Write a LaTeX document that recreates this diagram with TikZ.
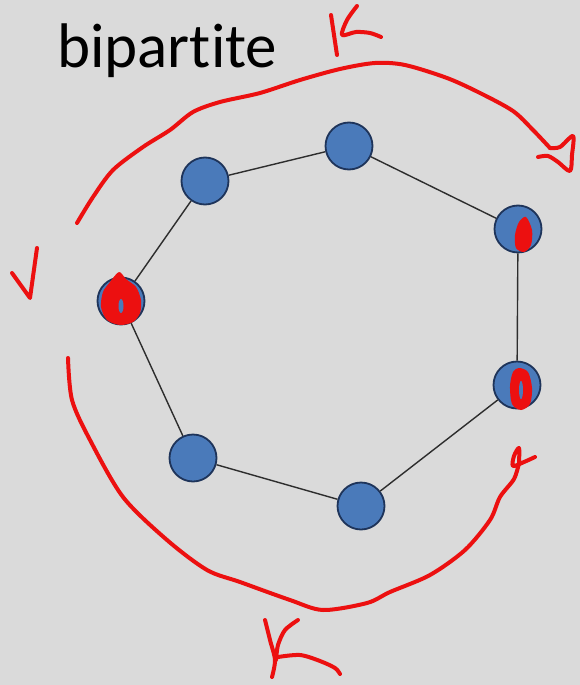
\documentclass[tikz,border=0pt]{standalone}
\usepackage{fontspec}
\setmainfont{Carlito}[Ligatures=NoCommon]
\definecolor{bgc}{RGB}{218,218,218}
\definecolor{nodefill}{RGB}{74,122,186}
\definecolor{nodeline}{RGB}{30,52,90}
\definecolor{edgec}{RGB}{45,45,45}
\definecolor{pen}{RGB}{236,16,16}
\tikzset{
  vtx/.style={circle, fill=nodefill, draw=nodeline, line width=1.8pt, minimum size=47pt, inner sep=0pt},
  edge/.style={draw=edgec, line width=1.4pt},
  penline/.style={draw=pen, line width=4pt, line cap=round, line join=round}
}
\begin{document}
\begin{tikzpicture}[x=1pt,y=-1pt]
\fill[bgc] (0,0) rectangle (580,685);
\useasboundingbox (0,0) rectangle (580,685);

\node[anchor=base west, inner sep=0pt, font=\fontsize{63}{66}\selectfont] (title) at (57,67) {bipart\kern0pt ite};

\node[vtx] (a) at (205,181) {};
\node[vtx] (b) at (349,146) {};
\node[vtx] (c) at (518,229) {};
\node[vtx] (d) at (517,385) {};
\node[vtx] (e) at (361,506) {};
\node[vtx] (f) at (193,458) {};
\node[vtx] (g) at (121,301) {};

\draw[edge] (g) -- (a);
\draw[edge] (a) -- (b);
\draw[edge] (b) -- (c);
\draw[edge] (c) -- (d);
\draw[edge] (d) -- (e);
\draw[edge] (e) -- (f);
\draw[edge] (f) -- (g);

% red blobs on nodes
\fill[pen] plot[smooth cycle] coordinates {(119,272) (126,279) (136,287) (141,300) (140,313) (133,322) (120,325) (107,320) (101,307) (103,292) (110,282)};
\fill[nodefill] (121,306) ellipse (2.5 and 7);
\fill[pen] plot[smooth cycle] coordinates {(526,217) (532,230) (531,245) (524,252) (516,248) (515,235) (519,222)};
\fill[pen] plot[smooth cycle] coordinates {(519,368) (528,372) (532,388) (530,404) (521,410) (512,404) (510,386) (513,372)};
\fill[nodefill] (521,390) ellipse (2 and 9);

% top arc with arrow loop
\draw[penline] plot[smooth] coordinates {(77,223) (93,197) (113,170) (143,147) (170,130) (193,112) (220,102) (260,93) (300,80) (340,69) (375,63) (405,65) (447,78) (480,93) (513,111) (533,130) (550,148)};
\draw[penline] plot[smooth] coordinates {(550,148) (560,147) (573,136) (572,155) (570,171) (558,162) (548,156) (538,157)};

% bottom arc with loop
\draw[penline] plot[smooth] coordinates {(68,358) (72,400) (90,440) (123,497) (167,540) (207,570) (240,582) (290,600) (323,610) (367,603) (390,592) (430,575) (465,550) (490,520) (500,497) (514,479) (519,463)};
\draw[penline] plot[smooth] coordinates {(519,463) (519,448) (514,456) (513,466) (524,462) (535,457)};

% v mark
\draw[penline] (12,273) -- (30,298) -- (37,248);

% top K
\draw[penline] (331,15) -- (337,55);
\draw[penline] plot[smooth] coordinates {(357,6) (347,20) (342,35) (356,32) (370,33) (381,37)};

% bottom K
\draw[penline] plot[smooth] coordinates {(265,620) (270,640) (275,660) (272,677)};
\draw[penline] plot[smooth] coordinates {(298,620) (285,630) (278,645) (276,660)};
\draw[penline] plot[smooth] coordinates {(278,657) (300,655) (320,661) (335,668) (340,674)};
\end{tikzpicture}
\end{document}
